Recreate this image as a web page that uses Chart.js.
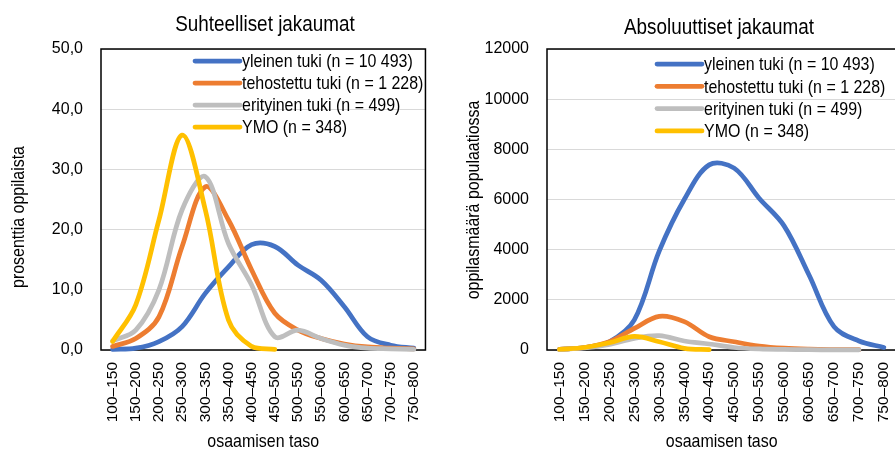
<!DOCTYPE html>
<html lang="fi">
<head>
<meta charset="utf-8">
<script src="https://cdn.jsdelivr.net/npm/chart.js@4.4.1/dist/chart.umd.min.js"></script>
<style>
html, body { margin: 0; padding: 0; background: #fff; }
#wrap { position: relative; width: 895px; height: 449px; overflow: hidden; }
#left { position: absolute; left: 0; top: 0; }
#right { position: absolute; left: 445px; top: 0; }
</style>
</head>
<body>
<div id="wrap">
  <canvas id="left" width="445" height="449"></canvas>
  <canvas id="right" width="470" height="449"></canvas>
</div>
<script>
// osaamisen taso -luokat
const tasot = ["100–150", "150–200", "200–250", "250–300", "300–350", "350–400", "400–450",
               "450–500", "500–550", "550–600", "600–650", "650–700", "700–750", "750–800"];

const sarjat = ["yleinen tuki (n = 10 493)", "tehostettu tuki (n = 1 228)",
                "erityinen tuki (n = 499)", "YMO (n = 348)"];
const varit = ["#4472C4", "#ED7D31", "#BEBEBE", "#FFC000"];

// prosenttia oppilaista
const yleinenPros    = [0.1, 0.3, 1.4, 3.9, 9.4, 13.8, 17.5, 17.2, 14.1, 11.6, 7.2, 2.2, 0.8, 0.3];
const tehostettuPros = [0.6, 1.9, 5.5, 17.2, 27.1, 21.6, 13.3, 6.1, 3.3, 1.9, 1.0, 0.5, 0.3, 0.2];
const erityinenPros  = [1.5, 3.3, 10.0, 23.3, 28.8, 17.7, 10.8, 2.2, 3.3, 1.9, 0.8, 0.3, 0.2, 0.1];
const ymoPros        = [1.4, 7.5, 21.6, 35.7, 23.3, 5.0, 0.6, 0.1, null, null, null, null, null, null];

// oppilasmäärä populaatiossa
const yleinenLkm    = [30, 100, 330, 1200, 3950, 6000, 7380, 7250, 6050, 4950, 2990, 930, 360, 100];
const tehostettuLkm = [30, 100, 330, 860, 1340, 1130, 530, 330, 160, 70, 30, 15, 10, null];
const erityinenLkm  = [20, 80, 220, 465, 570, 360, 240, 100, 40, 20, 10, 5, 5, null];
const ymoLkm        = [30, 100, 290, 540, 330, 65, 15, null, null, null, null, null, null, null];

const pyTicks = [0, 10, 20, 30, 40, 50];
const lkmTicks = [0, 2000, 4000, 6000, 8000, 10000, 12000];

const FAMILY = '"Liberation Sans", Arial, sans-serif';
const SQUEEZE = 0.84;   // kapeampi kirjain otsikoille ja selitteelle
Chart.defaults.font.family = FAMILY;
Chart.defaults.color = "#000";

function squeezedText(ctx, text, x, y, size, angle) {
  ctx.save();
  ctx.translate(x, y);
  if (angle) ctx.rotate(angle);
  ctx.scale(SQUEEZE, 1);
  ctx.font = `${size}px ${FAMILY}`;
  ctx.fillText(text, 0, 0);
  ctx.restore();
}

// kehys, otsikot ja selite piirretään itse
const frame = {
  id: "frame",
  beforeDatasetsDraw(chart) {
    const { ctx, chartArea: a } = chart;
    ctx.save();
    ctx.strokeStyle = "#000";
    ctx.lineWidth = 1.5;
    ctx.strokeRect(a.left, a.top, a.right - a.left, a.bottom - a.top);
    ctx.restore();
  },
  afterDraw(chart, args, o) {
    const { ctx, chartArea: a } = chart;
    ctx.save();
    ctx.fillStyle = "#000";
    ctx.textAlign = "center";
    ctx.textBaseline = "alphabetic";
    squeezedText(ctx, o.title, o.titleX, o.titleY, 22.5);
    squeezedText(ctx, "osaamisen taso", (a.left + a.right) / 2, 447, 19);
    ctx.textBaseline = "middle";
    squeezedText(ctx, o.yTitle, o.yTitleX, o.yTitleY, 19, -Math.PI / 2);

    ctx.textAlign = "left";
    ctx.lineCap = "round";
    ctx.lineWidth = 4.75;
    chart.data.datasets.forEach((ds, i) => {
      const y = o.legendY + i * o.legendGap;
      ctx.strokeStyle = ds.borderColor;
      ctx.beginPath();
      ctx.moveTo(o.legendX, y);
      ctx.lineTo(o.legendX + 45, y);
      ctx.stroke();
      squeezedText(ctx, ds.label, o.legendX + 47, y + 1, 19);
    });
    ctx.restore();
  }
};

function datasets(values) {
  return values.map((v, i) => ({
    label: sarjat[i],
    data: v,
    borderColor: varit[i],
    backgroundColor: varit[i],
    borderWidth: 4.75,
    borderCapStyle: "round",
    borderJoinStyle: "round",
    pointRadius: 0,
    tension: 0.35,
    clip: 6,
    order: 4 - i
  }));
}

function makeChart(id, values, yMax, step, tickList, fmt, yWidth, padRight, plug) {
  return new Chart(document.getElementById(id), {
    type: "line",
    data: { labels: tasot, datasets: datasets(values) },
    plugins: [frame],
    options: {
      responsive: false,
      animation: false,
      devicePixelRatio: 1,
      layout: { padding: { top: 49, right: padRight, bottom: 0, left: 0 } },
      plugins: {
        legend: { display: false },
        tooltip: { enabled: false },
        frame: plug
      },
      scales: {
        x: {
          offset: true,
          grid: { display: false, drawTicks: false },
          border: { display: false },
          ticks: {
            autoSkip: false, maxRotation: 90, minRotation: 90, padding: 12,
            font: { size: 15.5 }
          },
          afterFit(s) { s.height = 99; }
        },
        y: {
          min: 0, max: yMax,
          grid: { color: "#D9D9D9", lineWidth: 1, drawTicks: false },
          border: { display: false },
          afterBuildTicks(s) { s.ticks = tickList.map(v => ({ value: v })); },
          ticks: { stepSize: step, padding: 18, font: { size: 16 }, callback: fmt },
          afterFit(s) { s.width = yWidth; }
        }
      }
    }
  });
}

makeChart("left", [yleinenPros, tehostettuPros, erityinenPros, ymoPros], 50, 10, pyTicks,
  v => v.toFixed(1).replace(".", ","), 101, 15, {
    title: "Suhteelliset jakaumat", titleX: 265, titleY: 31,
    yTitle: "prosenttia oppilaista", yTitleX: 18.5, yTitleY: 217,
    legendX: 195, legendY: 61, legendGap: 22
  });

makeChart("right", [yleinenLkm, tehostettuLkm, erityinenLkm, ymoLkm], 12000, 2000, lkmTicks,
  v => String(v), 102, 14, {
    title: "Absoluuttiset jakaumat", titleX: 274, titleY: 34,
    yTitle: "oppilasmäärä populaatiossa", yTitleX: 29, yTitleY: 200,
    legendX: 212, legendY: 64, legendGap: 22.3
  });
</script>
</body>
</html>
